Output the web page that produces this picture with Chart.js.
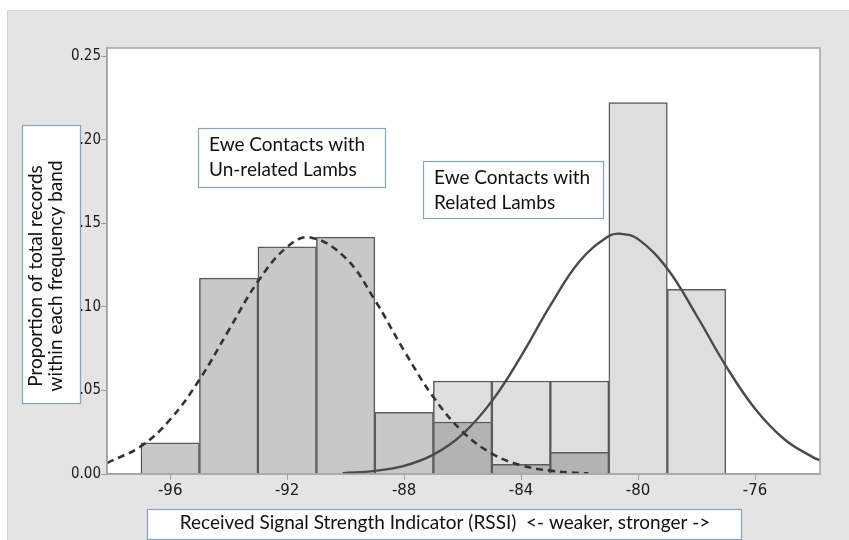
<!DOCTYPE html>
<html>
<head>
<meta charset="utf-8">
<script src="https://cdn.jsdelivr.net/npm/chart.js@4/dist/chart.umd.min.js"></script>
<style>
  html, body { margin: 0; padding: 0; background: #fff; }
  #wrap { width: 849px; height: 540px; position: relative; }
</style>
</head>
<body>
<div id="wrap"><canvas id="rssi"></canvas></div>
<script>
// histogram bins (bin centres, 2 dBm wide) and proportions
const unrelatedBins = [-96, -94, -92, -90, -88, -86, -84, -82];
const unrelatedProportion = [0.0187, 0.1172, 0.1359, 0.1417, 0.0369, 0.0311, 0.0058, 0.0130];
const relatedBins = [-86, -84, -82, -80, -78];
const relatedProportion = [0.0556, 0.0556, 0.0556, 0.2222, 0.1105];

// fitted normal curves
const unrelatedCurveX = [-98.16, -97, -96, -95, -94, -93, -92, -91.2, -90, -89, -88, -87, -86, -85, -84, -83, -82, -81.7];
const unrelatedCurveY = [0.0066, 0.0166, 0.0326, 0.0564, 0.0859, 0.1151, 0.1358, 0.1415, 0.1291, 0.1040,
  0.0737, 0.0460, 0.0253, 0.0122, 0.0052, 0.0020, 0.0006, 0.0004];
const relatedCurveX = [-90.1, -89, -88, -87, -86, -85, -84, -83, -82, -81, -80.6, -80, -79, -78, -77, -76, -75, -74, -73.78];
const relatedCurveY = [0.0005, 0.0019, 0.0049, 0.0116, 0.0239, 0.0436, 0.0705, 0.1008, 0.1273, 0.1423,
  0.1437, 0.1405, 0.1228, 0.0948, 0.0647, 0.0390, 0.0208, 0.0098, 0.0083];

const xTickValues = [-96, -92, -88, -84, -80, -76];
const xTickLabels = ['-96', '-92', '-88', '-84', '-80', '-76'];
const yTickValues = [0, 0.05, 0.10, 0.15, 0.20, 0.25];
const yTickLabels = ['0.00', '.05', '.10', '.15', '.20', '0.25'];

const unrelatedNote = ['Ewe Contacts with', 'Un-related Lambs'];
const relatedNote = ['Ewe Contacts with', 'Related Lambs'];
const yTitleLines = ['Proportion of total records', 'within each frequency band'];
const xTitle = 'Received Signal Strength Indicator (RSSI)  <- weaker, stronger ->';

const toPoints = (xs, ys) => xs.map((x, i) => ({ x, y: ys[i] }));

const boxFont = '19px Lato';
const boxBorder = '#86a2c4';

const drawNote = (ctx, lines, x, y, w, h, lineGap) => {
  ctx.save();
  ctx.fillStyle = '#fff';
  ctx.fillRect(x, y, w, h);
  ctx.strokeStyle = boxBorder;
  ctx.lineWidth = 1.2;
  ctx.strokeRect(x + 0.5, y + 0.5, w, h);
  ctx.fillStyle = '#111';
  ctx.font = boxFont;
  ctx.textBaseline = 'middle';
  lines.forEach((line, i) => {
    ctx.fillText(line, x + 11, y + 17 + i * lineGap);
  });
  ctx.restore();
};

const decorations = {
  id: 'decorations',
  beforeDraw(chart) {
    const { ctx, chartArea } = chart;
    ctx.save();
    ctx.fillStyle = '#fff';
    ctx.fillRect(0, 0, chart.width, chart.height);
    ctx.fillStyle = '#e4e4e4';
    ctx.fillRect(7, 10, chart.width - 7, chart.height - 10);
    ctx.strokeStyle = '#d2d2d2';
    ctx.lineWidth = 1;
    ctx.strokeRect(7.5, 10.5, chart.width, chart.height);
    ctx.fillStyle = '#fff';
    ctx.fillRect(chartArea.left, chartArea.top, chartArea.width, chartArea.height);

    // y axis title box (under the tick labels)
    ctx.fillStyle = '#fff';
    ctx.fillRect(22, 125, 58, 278);
    ctx.strokeStyle = boxBorder;
    ctx.lineWidth = 1.2;
    ctx.strokeRect(22.5, 125.5, 58, 278);
    ctx.translate(46, 276);
    ctx.rotate(-Math.PI / 2);
    ctx.fillStyle = '#111';
    ctx.font = boxFont;
    ctx.textAlign = 'center';
    ctx.textBaseline = 'middle';
    ctx.fillText(yTitleLines[0], 0, -10);
    ctx.fillText(yTitleLines[1], 0, 10);
    ctx.restore();
  },
  afterDraw(chart) {
    const { ctx, chartArea } = chart;
    ctx.save();
    ctx.strokeStyle = '#a4a4a4';
    ctx.lineWidth = 1.5;
    ctx.strokeRect(chartArea.left, chartArea.top, chartArea.width, chartArea.height);
    ctx.restore();

    drawNote(ctx, unrelatedNote, 198, 128, 187, 59, 25);
    drawNote(ctx, relatedNote, 423, 161, 180, 57, 25);

    // x axis title box
    ctx.save();
    ctx.fillStyle = '#fff';
    ctx.fillRect(147, 509, 594, 30);
    ctx.strokeStyle = boxBorder;
    ctx.lineWidth = 1.2;
    ctx.strokeRect(147.5, 509.5, 594, 30);
    ctx.fillStyle = '#111';
    ctx.font = boxFont;
    ctx.textAlign = 'center';
    ctx.textBaseline = 'middle';
    ctx.fillText(xTitle, 445, 523);
    ctx.restore();
  },
};

const chartInit = (element) => new Chart(element, {
  type: 'bar',
  data: {
    datasets: [
      {
        type: 'line',
        label: 'Un-related fit',
        data: toPoints(unrelatedCurveX, unrelatedCurveY),
        borderColor: '#333',
        borderWidth: 2.6,
        borderDash: [7, 5],
        pointRadius: 0,
        tension: 0.4,
        fill: false,
        order: 0,
      },
      {
        type: 'line',
        label: 'Related fit',
        data: toPoints(relatedCurveX, relatedCurveY),
        borderColor: '#4a4a4a',
        borderWidth: 2.4,
        pointRadius: 0,
        tension: 0.4,
        fill: false,
        order: 0,
      },
      {
        label: 'Un-related lambs',
        data: toPoints(unrelatedBins, unrelatedProportion),
        backgroundColor: unrelatedBins.map((b) => (b > -87 ? '#b3b3b3' : '#c8c8c8')),
        borderColor: '#5c5c5c',
        borderWidth: 1.5,
        grouped: false,
        barPercentage: 1,
        categoryPercentage: 1,
        order: 1,
      },
      {
        label: 'Related lambs',
        data: toPoints(relatedBins, relatedProportion),
        backgroundColor: '#dedede',
        borderColor: '#5c5c5c',
        borderWidth: 1.5,
        grouped: false,
        barPercentage: 1,
        categoryPercentage: 1,
        order: 2,
      },
    ],
  },
  options: {
    responsive: true,
    maintainAspectRatio: false,
    animation: false,
    layout: { padding: { left: 0, top: 48, right: 29, bottom: 0 } },
    plugins: {
      legend: { display: false },
      tooltip: { enabled: false },
    },
    scales: {
      x: {
        type: 'linear',
        min: -98.16,
        max: -73.78,
        offset: false,
        afterFit: (scale) => { scale.height = 66; },
        afterBuildTicks: (scale) => { scale.ticks = xTickValues.map((value) => ({ value })); },
        grid: { drawOnChartArea: false, drawTicks: true, tickLength: 6, tickColor: '#a0a0a0', offset: false },
        border: { color: '#a4a4a4', width: 1.5 },
        ticks: {
          padding: 2,
          color: '#1a1a1a',
          font: { family: 'DejaVu Sans', size: 15 },
          maxRotation: 0,
          callback: (value, index) => xTickLabels[index],
        },
      },
      y: {
        min: 0,
        max: 0.2548,
        afterFit: (scale) => { scale.width = 107; },
        afterBuildTicks: (scale) => { scale.ticks = yTickValues.map((value) => ({ value })); },
        grid: { drawOnChartArea: false, drawTicks: true, tickLength: 6, tickColor: '#a0a0a0' },
        border: { color: '#a4a4a4', width: 1.5 },
        ticks: {
          padding: 0,
          color: '#1a1a1a',
          font: { family: "'DejaVu Sans Condensed', 'DejaVu Sans'", size: 15 },
          callback: (value, index) => yTickLabels[index],
        },
      },
    },
  },
  plugins: [decorations],
});

document.addEventListener('DOMContentLoaded', () => {
  const element = document.getElementById('rssi');
  if (element) {
    chartInit(element);
  }
});
</script>
</body>
</html>
